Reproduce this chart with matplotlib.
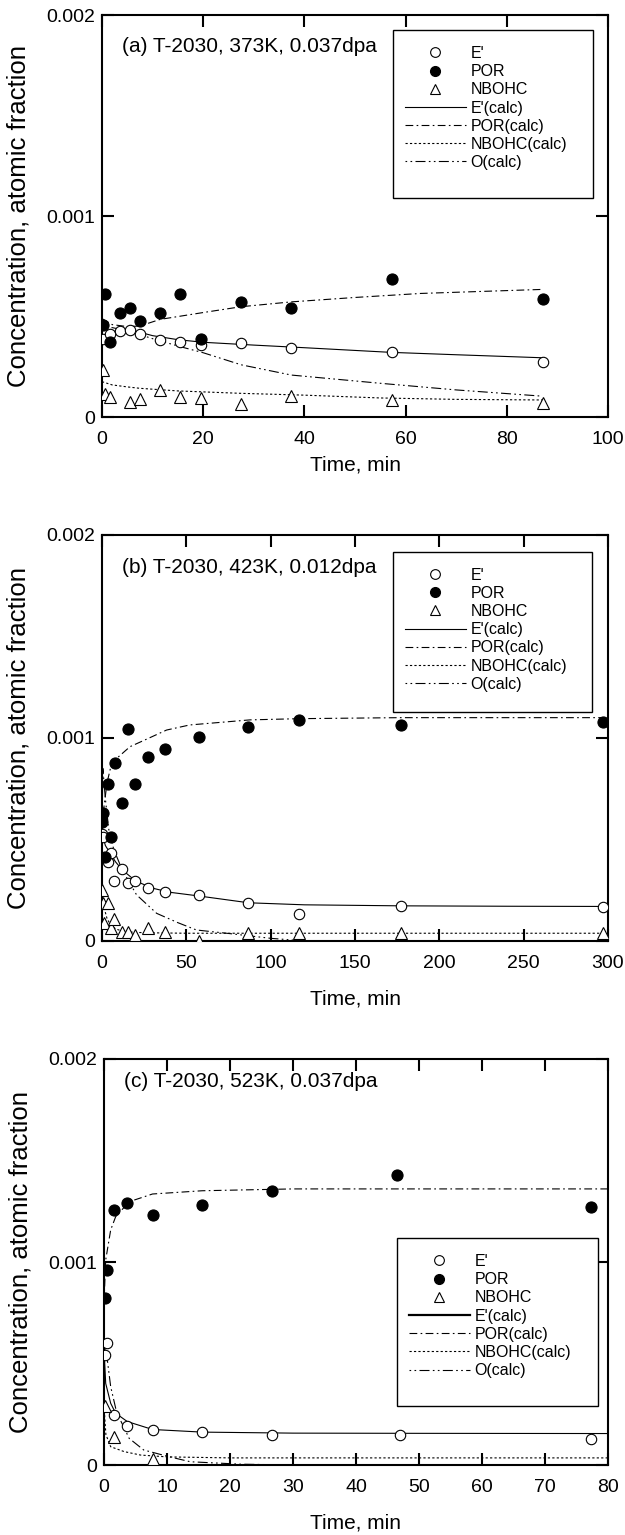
import matplotlib
matplotlib.use("Agg")
import matplotlib.pyplot as plt
from matplotlib.lines import Line2D
from matplotlib.patches import Rectangle
import numpy as np

plt.rcParams['font.family'] = ['Liberation Sans', 'DejaVu Sans']

# ---------------- Panel (a) ----------------
a_t_E = [0.1, 1.6, 3.6, 5.5, 7.5, 11.5, 15.5, 19.6, 27.5, 37.4, 57.3, 87.1]
a_y_E = [0.387, 0.411, 0.428, 0.433, 0.411, 0.383, 0.372, 0.358, 0.366, 0.345, 0.322, 0.275]
a_t_P = [0.1, 0.6, 1.6, 3.6, 5.5, 7.5, 11.5, 15.5, 19.6, 27.5, 37.4, 57.3, 87.1]
a_y_P = [0.458, 0.61, 0.375, 0.519, 0.544, 0.478, 0.519, 0.61, 0.387, 0.574, 0.541, 0.687, 0.587]
a_t_N = [0.1, 0.6, 1.6, 5.5, 7.5, 11.5, 15.5, 19.6, 27.5, 37.4, 57.3, 87.1]
a_y_N = [0.234, 0.114, 0.101, 0.073, 0.09, 0.134, 0.1, 0.096, 0.065, 0.106, 0.085, 0.068]

a_tc_E = [0, 1, 3, 5, 7, 10, 15, 20, 30, 40, 57, 70, 87]
a_yc_E = [0.38, 0.41, 0.43, 0.432, 0.425, 0.405, 0.385, 0.372, 0.358, 0.345, 0.322, 0.31, 0.295]
a_tc_P = [0, 2, 5, 7.5, 11.5, 20, 27.5, 37.4, 50, 63, 75, 87]
a_yc_P = [0.49, 0.46, 0.45, 0.453, 0.486, 0.52, 0.549, 0.573, 0.595, 0.615, 0.625, 0.635]
a_tc_N = [0, 2, 5, 7.5, 15, 27.5, 40, 55, 70, 87]
a_yc_N = [0.176, 0.16, 0.15, 0.143, 0.13, 0.118, 0.109, 0.095, 0.088, 0.085]
a_tc_O = [0, 1, 3, 5, 7.5, 10, 15.5, 20, 27.5, 37.4, 55, 70, 87]
a_yc_O = [0.46, 0.45, 0.44, 0.43, 0.41, 0.39, 0.35, 0.32, 0.26, 0.209, 0.168, 0.135, 0.104]

# ---------------- Panel (b) ----------------
b_t_E = [0.2, 0.8, 3.4, 5.3, 7.3, 11.7, 15.6, 19.6, 27.5, 37.3, 57.5, 86.7, 117, 177, 297]
b_y_E = [0.527, 0.514, 0.391, 0.432, 0.296, 0.353, 0.284, 0.297, 0.26, 0.24, 0.227, 0.186, 0.133, 0.172, 0.167]
b_t_P = [0.2, 0.8, 1.8, 3.4, 5.3, 7.7, 11.7, 15.6, 19.6, 27.5, 37.3, 57.5, 86.7, 117, 177, 297]
b_y_P = [0.588, 0.629, 0.415, 0.772, 0.514, 0.875, 0.678, 1.044, 0.773, 0.905, 0.944, 1.003, 1.053, 1.089, 1.065, 1.08]
b_t_N = [0.2, 0.5, 1.4, 3.4, 5.3, 7.3, 11.7, 15.6, 19.6, 27.5, 37.3, 57.5, 86.7, 117, 177, 297]
b_y_N = [0.251, 0.186, 0.09, 0.189, 0.062, 0.107, 0.043, 0.046, 0.03, 0.062, 0.046, 0.0, 0.041, 0.041, 0.038, 0.04]

b_tc_E = [0, 2, 5, 8, 12, 20, 30, 40, 57, 87, 120, 177, 240, 297]
b_yc_E = [0.53, 0.47, 0.43, 0.39, 0.35, 0.295, 0.26, 0.24, 0.222, 0.188, 0.178, 0.173, 0.171, 0.17]
b_tc_P = [0, 1, 3, 5, 7.7, 16.6, 27.5, 38.3, 52, 87.7, 117, 177, 240, 297]
b_yc_P = [0.55, 0.65, 0.78, 0.85, 0.892, 0.957, 0.998, 1.039, 1.064, 1.089, 1.095, 1.10, 1.10, 1.10]
b_tc_N = [0, 1, 3, 5, 8, 12, 20, 30, 50, 100, 200, 297]
b_yc_N = [0.25, 0.17, 0.11, 0.08, 0.06, 0.048, 0.042, 0.04, 0.038, 0.038, 0.038, 0.038]
b_tc_O = [0, 0.5, 2, 4, 7, 12, 20.5, 32.4, 45, 56, 76, 100, 120, 160]
b_yc_O = [0.55, 0.85, 0.7, 0.55, 0.45, 0.35, 0.227, 0.136, 0.09, 0.054, 0.036, 0.013, 0.0, 0.0]

# ---------------- Panel (c) ----------------
c_t_E = [0.1, 0.53, 1.59, 3.6, 7.7, 15.6, 26.7, 47.0, 77.3]
c_y_E = [0.542, 0.603, 0.246, 0.192, 0.172, 0.161, 0.146, 0.146, 0.13]
c_t_P = [0.1, 0.53, 1.59, 3.6, 7.7, 15.6, 26.7, 46.5, 77.3]
c_y_P = [0.824, 0.961, 1.256, 1.289, 1.232, 1.281, 1.351, 1.43, 1.272]
c_t_N = [0.1, 1.59, 7.7]
c_y_N = [0.29, 0.14, 0.028]

c_tc_E = [0, 0.27, 1.06, 1.85, 3.7, 7.7, 15.6, 30, 50, 80]
c_yc_E = [0.57, 0.402, 0.304, 0.255, 0.214, 0.175, 0.162, 0.157, 0.156, 0.155]
c_tc_P = [0, 0.27, 1.06, 1.85, 4, 7.7, 15.6, 30, 50, 80]
c_yc_P = [0.8, 1.01, 1.158, 1.223, 1.297, 1.335, 1.351, 1.36, 1.36, 1.36]
c_tc_N = [0, 0.3, 1.06, 3.2, 5.8, 10, 20, 40, 80]
c_yc_N = [0.29, 0.15, 0.09, 0.066, 0.049, 0.04, 0.035, 0.035, 0.035]
c_tc_O = [0, 0.53, 1.06, 2, 4, 6.3, 10.3, 13.7, 21.7, 30]
c_yc_O = [0.6, 0.517, 0.386, 0.26, 0.131, 0.074, 0.041, 0.016, 0.004, 0.0]

legend_labels = ["E'", "POR", "NBOHC", "E'(calc)", "POR(calc)", "NBOHC(calc)", "O(calc)"]

panels = [
    dict(label="(a) T-2030, 373K, 0.037dpa", xmax=100, xstep=20,
         E=(a_t_E, a_y_E), P=(a_t_P, a_y_P), N=(a_t_N, a_y_N),
         cE=(a_tc_E, a_yc_E), cP=(a_tc_P, a_yc_P), cN=(a_tc_N, a_yc_N), cO=(a_tc_O, a_yc_O),
         rect=[0.1632, 0.7283, 0.8096, 0.2619], txty=0.908, xlab=-0.095,
         box=(0.575, 0.545, 0.970, 0.963), hlw=0.8),
    dict(label="(b) T-2030, 423K, 0.012dpa", xmax=300, xstep=50,
         E=(b_t_E, b_y_E), P=(b_t_P, b_y_P), N=(b_t_N, b_y_N),
         cE=(b_tc_E, b_yc_E), cP=(b_tc_P, b_yc_P), cN=(b_tc_N, b_yc_N), cO=(b_tc_O, b_yc_O),
         rect=[0.1632, 0.3870, 0.8096, 0.2645], txty=0.906, xlab=-0.12,
         box=(0.575, 0.564, 0.969, 0.959), hlw=0.8),
    dict(label="(c) T-2030, 523K, 0.037dpa", xmax=80, xstep=10,
         E=(c_t_E, c_y_E), P=(c_t_P, c_y_P), N=(c_t_N, c_y_N),
         cE=(c_tc_E, c_yc_E), cP=(c_tc_P, c_yc_P), cN=(c_tc_N, c_yc_N), cO=(c_tc_O, c_yc_O),
         rect=[0.1664, 0.0456, 0.8064, 0.2645], txty=0.931, xlab=-0.12,
         box=(0.581, 0.145, 0.980, 0.559), hlw=1.6),
]

fig = plt.figure(figsize=(6.25, 15.35), dpi=100)

ls_P = (0, (7, 3, 1.5, 3))
ls_N = (0, (2, 2))
ls_O = (0, (1.5, 3, 1.5, 3, 9, 3))

for p in panels:
    ax = fig.add_axes(p["rect"])
    s = 1e-3
    lw = 0.8
    ax.plot(p["cE"][0], np.array(p["cE"][1]) * s, color="black", lw=lw, ls="-", zorder=2)
    ax.plot(p["cP"][0], np.array(p["cP"][1]) * s, color="black", lw=lw, ls=ls_P, zorder=2)
    ax.plot(p["cN"][0], np.array(p["cN"][1]) * s, color="black", lw=lw, ls=ls_N, zorder=2)
    ax.plot(p["cO"][0], np.array(p["cO"][1]) * s, color="black", lw=lw, ls=ls_O, zorder=2)
    ax.plot(p["E"][0], np.array(p["E"][1]) * s, ls="none", marker="o", ms=7.5,
            mfc="white", mec="black", mew=0.8, zorder=3)
    ax.plot(p["P"][0], np.array(p["P"][1]) * s, ls="none", marker="o", ms=8,
            mfc="black", mec="black", mew=0.8, zorder=3)
    ax.plot(p["N"][0], np.array(p["N"][1]) * s, ls="none", marker="^", ms=8,
            mfc="white", mec="black", mew=0.8, zorder=3)

    # legend box
    x0, y0, x1, y1 = p["box"]
    ax.add_patch(Rectangle((x0, y0), x1 - x0, y1 - y0, transform=ax.transAxes,
                           facecolor="white", edgecolor="black", lw=1.0, zorder=4))
    handles = [
        Line2D([], [], ls="none", marker="o", ms=7, mfc="white", mec="black", mew=0.8),
        Line2D([], [], ls="none", marker="o", ms=7, mfc="black", mec="black"),
        Line2D([], [], ls="none", marker="^", ms=7, mfc="white", mec="black", mew=0.8),
        Line2D([], [], color="black", lw=p["hlw"], ls="-"),
        Line2D([], [], color="black", lw=lw, ls=ls_P),
        Line2D([], [], color="black", lw=lw, ls=ls_N),
        Line2D([], [], color="black", lw=lw, ls=ls_O),
    ]
    ax_h_px = p["rect"][3] * 1535
    ax_w_px = p["rect"][2] * 625
    lx = x0 + 12.0 / ax_w_px
    ly = y1 - 16.0 / ax_h_px
    leg = ax.legend(handles, legend_labels, loc="upper left", bbox_to_anchor=(lx, ly),
                    fontsize=11.5, frameon=False,
                    handlelength=3.8, handletextpad=0.3, labelspacing=0.2,
                    borderpad=0, borderaxespad=0)
    leg.set_zorder(5)

    ax.set_xlim(0, p["xmax"])
    ax.set_ylim(0, 0.002)
    ax.set_xticks(np.arange(0, p["xmax"] + 1, p["xstep"]))
    ax.set_yticks([0, 0.001, 0.002])
    ax.set_yticklabels(["0", "0.001", "0.002"])
    ax.tick_params(direction="in", length=8.5, width=1.5, top=True, right=True,
                   labelsize=14)
    ax.tick_params(axis="x", pad=10)
    ax.tick_params(axis="y", pad=5)
    for sp in ax.spines.values():
        sp.set_linewidth(1.5)
    ax.set_xlabel("Time, min", fontsize=15)
    ax.set_ylabel("Concentration, atomic fraction", fontsize=18.5)
    ax.xaxis.set_label_coords(0.5, p["xlab"])
    ax.yaxis.set_label_coords(-0.142, 0.5)
    ax.text(0.039, p["txty"], p["label"], transform=ax.transAxes, fontsize=15,
            va="baseline", ha="left")

fig.savefig("out.png", dpi=100)
